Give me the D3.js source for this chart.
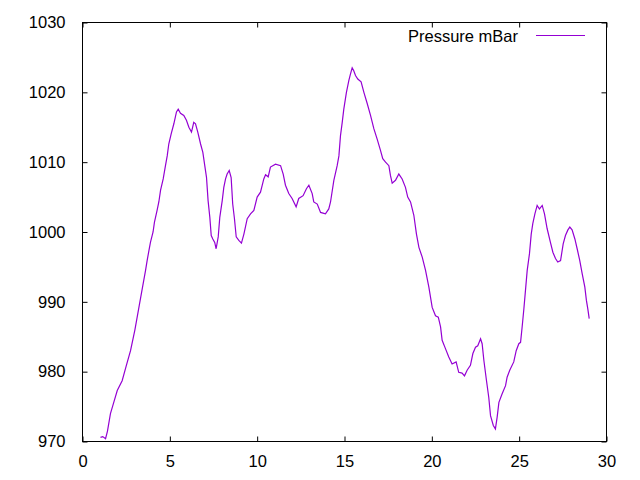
<!DOCTYPE html>
<html>
<head>
<meta charset="utf-8">
<script src="https://cdn.jsdelivr.net/npm/d3@7"></script>
<style>
html,body{margin:0;padding:0;background:#fff;}
svg{display:block;}
text{font-family:"Liberation Sans",Arial,sans-serif;font-size:16.5px;fill:#000;}
</style>
</head>
<body>
<svg id="chart" width="640" height="480"></svg>
<script>
const seriesName = "Pressure mBar";
const xTicks = [0, 5, 10, 15, 20, 25, 30];
const yTicks = [970, 980, 990, 1000, 1010, 1020, 1030];
const timeValues = [1.03,1.16,1.32,1.43,1.6,1.79,1.99,2.27,2.5,2.75,3.0,3.25,3.45,3.61,3.7,3.8,3.89,4.04,4.12,4.27,4.37,4.47,4.62,4.75,4.85,4.94,5.08,5.23,5.38,5.48,5.61,5.8,5.95,6.09,6.24,6.37,6.47,6.6,6.76,6.89,7.0,7.1,7.19,7.29,7.37,7.46,7.57,7.65,7.77,7.86,8.0,8.09,8.19,8.28,8.4,8.51,8.6,8.7,8.8,8.95,9.1,9.24,9.43,9.62,9.81,10.0,10.19,10.38,10.48,10.63,10.76,11.05,11.34,11.49,11.62,11.81,12.0,12.23,12.38,12.63,12.82,12.96,13.15,13.24,13.44,13.63,13.91,14.1,14.2,14.39,14.58,14.68,14.77,14.87,14.96,15.11,15.25,15.34,15.44,15.53,15.63,15.76,15.95,16.11,16.3,16.49,16.68,16.87,17.06,17.19,17.35,17.54,17.63,17.73,17.92,18.11,18.3,18.49,18.62,18.78,18.97,19.12,19.26,19.45,19.64,19.83,20.02,20.21,20.37,20.5,20.59,20.78,20.97,21.16,21.39,21.54,21.73,21.87,22.02,22.21,22.35,22.5,22.63,22.79,22.88,22.98,23.13,23.26,23.36,23.52,23.64,23.74,23.84,24.02,24.22,24.31,24.46,24.69,24.83,24.98,25.08,25.17,25.27,25.36,25.46,25.59,25.69,25.78,25.9,26.03,26.16,26.32,26.45,26.6,26.79,26.93,27.08,27.21,27.37,27.52,27.65,27.79,27.9,28.03,28.19,28.32,28.47,28.61,28.76,28.85,28.93,29.01];
const pressureValues = [970.6,970.7,970.4,971.5,974,975.6,977.3,978.7,980.8,983,986,989.5,992.3,994.5,995.9,997.3,998.5,1000,1001.4,1003.1,1004.3,1006,1007.6,1009.5,1010.9,1012.6,1014.1,1015.5,1017.2,1017.6,1017.0,1016.7,1016,1015,1014.3,1015.7,1015.5,1014.3,1012.6,1011.4,1009.5,1007.8,1004.5,1002.1,999.5,999.0,998.5,997.6,999.3,1002.1,1004.5,1006.4,1007.6,1008.3,1008.8,1007.8,1004.0,1001.9,999.3,998.8,998.4,999.7,1001.9,1002.6,1003.1,1005,1005.7,1007.6,1008.2,1007.9,1009.3,1009.7,1009.5,1008.3,1006.7,1005.5,1004.8,1003.6,1004.8,1005.2,1006.2,1006.7,1005.5,1004.3,1004,1002.8,1002.6,1003.3,1004.3,1007.4,1009.5,1010.9,1013.8,1015.7,1017.6,1020,1021.7,1022.6,1023.5,1023.1,1022.4,1021.9,1021.5,1020,1018.4,1016.7,1014.8,1013.3,1011.7,1010.5,1010,1009.5,1008.1,1007,1007.4,1008.3,1007.6,1006.4,1005,1004.3,1002.4,999.7,997.8,996.4,994.5,992.1,989.2,988,987.8,986.4,984.5,983.3,982.1,981.1,981.4,979.9,979.8,979.4,980.2,980.9,982.6,983.5,983.7,984.7,984,981.6,978.7,976.3,973.7,972.3,971.8,973.5,975.6,976.8,978,979.2,980.2,981.4,983,984,984.2,986.4,989,991.6,994.5,996.9,999.7,1001.2,1002.6,1003.8,1003.3,1003.8,1002.6,1000.5,998.5,997.1,996.2,995.7,995.9,998.3,999.5,1000.3,1000.7,1000.3,999.0,997.6,995.9,994,992.1,990.2,989,987.6];

const data = timeValues.map((t, i) => ({x: t, y: pressureValues[i]}));

const L = 82.5, R = 606.5, T = 22.5, B = 441.5;
const svg = d3.select("#chart");
const xScale = d3.scaleLinear().domain([0, 30]).range([L, R]);
const yScale = d3.scaleLinear().domain([970, 1030]).range([B, T]);
const tickLen = 5;
const fmt = d3.format("d");

svg.append("g").attr("transform", `translate(0,${B})`)
  .call(d3.axisBottom(xScale).tickValues(xTicks).tickFormat(fmt).tickSizeInner(-tickLen).tickSizeOuter(0).tickPadding(14));
svg.append("g").attr("transform", `translate(0,${T})`)
  .call(d3.axisTop(xScale).tickValues(xTicks).tickSizeInner(-tickLen).tickSizeOuter(0).tickFormat(""));
svg.append("g").attr("transform", `translate(${L},0)`)
  .call(d3.axisLeft(yScale).tickValues(yTicks).tickFormat(fmt).tickSizeInner(-tickLen).tickSizeOuter(0).tickPadding(17));
svg.append("g").attr("transform", `translate(${R},0)`)
  .call(d3.axisRight(yScale).tickValues(yTicks).tickSizeInner(-tickLen).tickSizeOuter(0).tickFormat(""));

svg.selectAll(".domain").remove();
svg.selectAll(".tick line").attr("stroke", "#000").attr("stroke-width", 1);
svg.selectAll(".tick text").attr("font-family", "Liberation Sans, Arial, sans-serif").attr("font-size", 16.5).attr("fill", "#000");

svg.append("rect").attr("x", L).attr("y", T).attr("width", R - L).attr("height", B - T)
  .attr("fill", "none").attr("stroke", "#000").attr("stroke-width", 1);

const line = d3.line().x(d => xScale(d.x)).y(d => yScale(d.y));
svg.append("path").datum(data).attr("d", line)
  .attr("fill", "none").attr("stroke", "#9400D3").attr("stroke-width", 1.2);

svg.append("text").attr("x", 518).attr("y", 36).attr("text-anchor", "end")
  .attr("dominant-baseline", "central").text(seriesName);
svg.append("line").attr("x1", 536).attr("x2", 585).attr("y1", 35.5).attr("y2", 35.5)
  .attr("stroke", "#9400D3").attr("stroke-width", 1.2);
</script>
</body>
</html>
